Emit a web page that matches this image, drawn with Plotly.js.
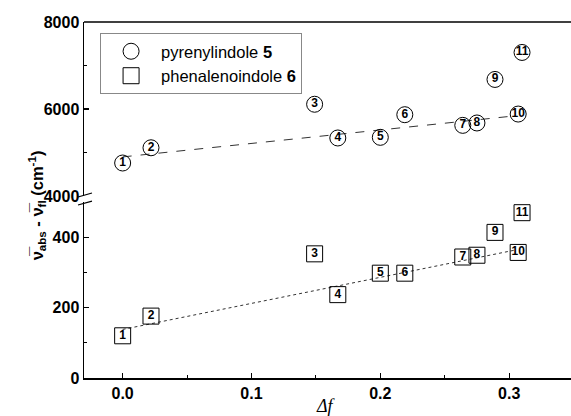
<!DOCTYPE html>
<html>
<head>
<meta charset="utf-8">
<script src="https://cdn.plot.ly/plotly-3.0.1.min.js"></script>
<style>
  html, body { margin: 0; padding: 0; background: #fff; }
  #chart { width: 571px; height: 416px; }
</style>
</head>
<body>
<div id="chart"></div>
<script>
// Solvent numbers and their orientation polarizability Δf
const solventLabels = ['1', '2', '3', '4', '5', '6', '7', '8', '9', '10', '11'];
const deltaF = [0.000, 0.022, 0.149, 0.167, 0.200, 0.219, 0.264, 0.275, 0.289, 0.307, 0.310];

// Stokes shifts (cm-1)
const stokesPyrenyl = [4760, 5110, 6110, 5335, 5350, 5870, 5625, 5680, 6680, 5885, 7300];
const stokesPhenaleno = [120, 176, 353, 237, 298, 298, 344, 349, 414, 357, 470];

// Linear fits
const fitX = [0.000, 0.305];
const fitPyrenyl = [4900, 5845];
const fitPhenaleno = [138, 364];

const FONT = 'Arial, "Liberation Sans", sans-serif';

const traces = [
  {
    x: fitX, y: fitPyrenyl, xaxis: 'x', yaxis: 'y2', mode: 'lines',
    line: {color: '#333', width: 1, dash: 'dash'}, showlegend: false, hoverinfo: 'skip'
  },
  {
    x: fitX, y: fitPhenaleno, xaxis: 'x', yaxis: 'y', mode: 'lines',
    line: {color: '#333', width: 1, dash: 'dot'}, showlegend: false, hoverinfo: 'skip'
  },
  {
    name: 'pyrenylindole <b>5</b>',
    x: deltaF, y: stokesPyrenyl, xaxis: 'x', yaxis: 'y2', mode: 'markers',
    marker: {symbol: 'circle-open', size: 16, color: '#000', line: {width: 1, color: '#000'}}
  },
  {
    name: 'phenalenoindole <b>6</b>',
    x: deltaF, y: stokesPhenaleno, xaxis: 'x', yaxis: 'y', mode: 'markers',
    marker: {symbol: 'square-open', size: 16, color: '#000', line: {width: 1, color: '#000'}}
  },
  {
    x: deltaF, y: stokesPyrenyl, xaxis: 'x', yaxis: 'y2', mode: 'text',
    text: solventLabels, textposition: 'middle center',
    textfont: {family: FONT, size: 12, color: '#000', weight: 'bold'}, showlegend: false, hoverinfo: 'skip'
  },
  {
    x: deltaF, y: stokesPhenaleno, xaxis: 'x', yaxis: 'y', mode: 'text',
    text: solventLabels, textposition: 'middle center',
    textfont: {family: FONT, size: 12, color: '#000', weight: 'bold'}, showlegend: false, hoverinfo: 'skip'
  }
];

const tickFont = {family: FONT, size: 16, color: '#000', weight: 'bold'};

const layout = {
  width: 571, height: 416,
  margin: {l: 84, r: 0, t: 22, b: 38},
  paper_bgcolor: '#fff', plot_bgcolor: '#fff',
  showlegend: true,
  legend: {
    x: 0.033, y: 0.969, xanchor: 'left', yanchor: 'top',
    bordercolor: '#888', borderwidth: 1, bgcolor: '#fff',
    font: {family: FONT, size: 16.5, color: '#000'},
    itemwidth: 50, traceorder: 'normal'
  },
  xaxis: {
    range: [-0.03, 0.348], domain: [0, 1], anchor: 'y',
    tickvals: [0, 0.1, 0.2, 0.3], ticktext: ['0.0', '0.1', '0.2', '0.3'],
    ticks: 'inside', ticklen: 5, tickwidth: 1.2, tickcolor: '#000',
    minor: {tickvals: [0.05, 0.15, 0.25], ticks: 'inside', ticklen: 3, tickwidth: 1, tickcolor: '#000'},
    showline: true, linecolor: '#000', linewidth: 1.5,
    showgrid: false, zeroline: false, tickfont: tickFont
  },
  yaxis: {
    range: [0, 500], domain: [0, 0.494], anchor: 'x',
    tickvals: [0, 200, 400],
    ticks: 'inside', ticklen: 5, tickwidth: 1.2, tickcolor: '#000',
    minor: {tickvals: [100, 300], ticks: 'inside', ticklen: 3, tickwidth: 1, tickcolor: '#000'},
    showline: true, linecolor: '#000', linewidth: 1.5,
    showgrid: false, zeroline: false, tickfont: tickFont
  },
  yaxis2: {
    range: [4000, 8000], domain: [0.511, 1], anchor: 'x',
    tickvals: [4000, 6000, 8000],
    ticks: 'inside', ticklen: 5, tickwidth: 1.2, tickcolor: '#000',
    minor: {tickvals: [5000, 7000], ticks: 'inside', ticklen: 3, tickwidth: 1, tickcolor: '#000'},
    showline: true, linecolor: '#000', linewidth: 1.5,
    showgrid: false, zeroline: false, tickfont: tickFont
  },
  shapes: [
    // top frame line
    {type: 'line', xref: 'paper', yref: 'paper', x0: 0, x1: 1, y0: 1, y1: 1,
     line: {color: '#000', width: 1.5}},
    // axis break marks
    {type: 'line', xref: 'paper', yref: 'paper', x0: -0.0123, x1: 0.0164, y0: 0.5084, y1: 0.5197,
     line: {color: '#000', width: 1.2}},
    {type: 'line', xref: 'paper', yref: 'paper', x0: -0.0123, x1: 0.0164, y0: 0.486, y1: 0.497,
     line: {color: '#000', width: 1.2}}
  ],
  annotations: [
    {
      text: 'ν\u0305<sub>abs</sub> - ν\u0305<sub>fl</sub> (cm<sup>-1</sup>)',
      xref: 'paper', yref: 'paper', x: 0, y: 0.485, xshift: -47,
      xanchor: 'center', yanchor: 'middle', textangle: -90, showarrow: false,
      font: {family: FONT, size: 16.5, color: '#000', weight: 'bold'}
    },
    {
      text: '<i>Δf</i>',
      xref: 'paper', yref: 'paper', x: 0.497, y: 0, yshift: -28,
      xanchor: 'center', yanchor: 'middle', showarrow: false,
      font: {family: '"Liberation Serif", "Times New Roman", serif', size: 18, color: '#000'}
    }
  ]
};

Plotly.newPlot('chart', traces, layout, {displayModeBar: false, staticPlot: true});
</script>
</body>
</html>
